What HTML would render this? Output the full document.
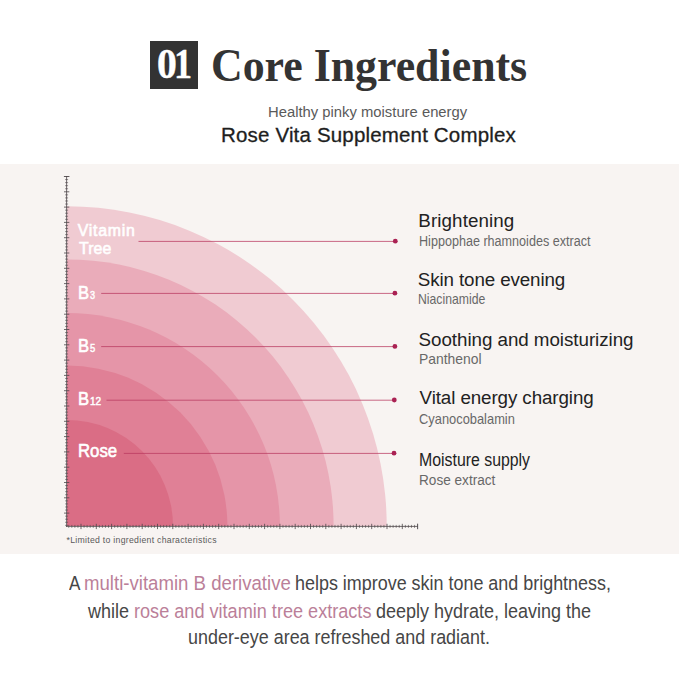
<!DOCTYPE html>
<html><head><meta charset="utf-8"><title>Core Ingredients</title>
<style>
html,body{margin:0;padding:0;background:#fff;}
body{width:679px;height:679px;position:relative;overflow:hidden;font-family:"Liberation Sans",sans-serif;}
.t{position:absolute;white-space:pre;line-height:1;margin:0;padding:0;transform-origin:0 0;}
.panel{position:absolute;left:0;top:164px;width:679px;height:390px;background:#f8f4f2;}
.box{position:absolute;left:150px;top:41px;width:48px;height:48px;background:#333;}
svg{position:absolute;left:0;top:0;}
</style></head><body>
<div class="panel"></div>
<div class="box"></div>
<svg width="679" height="679" viewBox="0 0 679 679">
<defs><clipPath id="q"><rect x="67.0" y="150" width="400" height="376.0"/></clipPath></defs>
<g clip-path="url(#q)">
<circle cx="67.0" cy="526.0" r="319.7" fill="#f0cbd2"/>
<circle cx="67.0" cy="526.0" r="266.6" fill="#eaacba"/>
<circle cx="67.0" cy="526.0" r="212.9" fill="#e595a8"/>
<circle cx="67.0" cy="526.0" r="160.4" fill="#e08096"/>
<circle cx="67.0" cy="526.0" r="106.0" fill="#da6d85"/>
</g>
<path d="M66.6 176V526.9" stroke="#4c4548" stroke-width="1" fill="none" opacity="0.8"/>
<path d="M66.1 526.4H417.7" stroke="#4c4548" stroke-width="1" fill="none" opacity="0.8"/>
<path d="M65.1 179.56h3M65.1 182.62h3M65.1 185.68h3M65.1 188.74h3M65.1 194.86h3M65.1 197.92h3M65.1 200.98h3M65.1 204.04h3M65.1 210.16h3M65.1 213.22h3M65.1 216.28h3M65.1 219.34h3M65.1 225.46h3M65.1 228.52h3M65.1 231.58h3M65.1 234.64h3M65.1 240.76h3M65.1 243.82h3M65.1 246.88h3M65.1 249.94h3M65.1 256.06h3M65.1 259.12h3M65.1 262.18h3M65.1 265.24h3M65.1 271.36h3M65.1 274.42h3M65.1 277.48h3M65.1 280.54h3M65.1 286.66h3M65.1 289.72h3M65.1 292.78h3M65.1 295.84h3M65.1 301.96h3M65.1 305.02h3M65.1 308.08h3M65.1 311.14h3M65.1 317.26h3M65.1 320.32h3M65.1 323.38h3M65.1 326.44h3M65.1 332.56h3M65.1 335.62h3M65.1 338.68h3M65.1 341.74h3M65.1 347.86h3M65.1 350.92h3M65.1 353.98h3M65.1 357.04h3M65.1 363.16h3M65.1 366.22h3M65.1 369.28h3M65.1 372.34h3M65.1 378.46h3M65.1 381.52h3M65.1 384.58h3M65.1 387.64h3M65.1 393.76h3M65.1 396.82h3M65.1 399.88h3M65.1 402.94h3M65.1 409.06h3M65.1 412.12h3M65.1 415.18h3M65.1 418.24h3M65.1 424.36h3M65.1 427.42h3M65.1 430.48h3M65.1 433.54h3M65.1 439.66h3M65.1 442.72h3M65.1 445.78h3M65.1 448.84h3M65.1 454.96h3M65.1 458.02h3M65.1 461.08h3M65.1 464.14h3M65.1 470.26h3M65.1 473.32h3M65.1 476.38h3M65.1 479.44h3M65.1 485.56h3M65.1 488.62h3M65.1 491.68h3M65.1 494.74h3M65.1 500.86h3M65.1 503.92h3M65.1 506.98h3M65.1 510.04h3M65.1 516.16h3M65.1 519.22h3M65.1 522.28h3M65.1 525.34h3M414.54 524.9v3M411.48 524.9v3M408.42 524.9v3M405.36 524.9v3M399.24 524.9v3M396.18 524.9v3M393.12 524.9v3M390.06 524.9v3M383.94 524.9v3M380.88 524.9v3M377.82 524.9v3M374.76 524.9v3M368.64 524.9v3M365.58 524.9v3M362.52 524.9v3M359.46 524.9v3M353.34 524.9v3M350.28 524.9v3M347.22 524.9v3M344.16 524.9v3M338.04 524.9v3M334.98 524.9v3M331.92 524.9v3M328.86 524.9v3M322.74 524.9v3M319.68 524.9v3M316.62 524.9v3M313.56 524.9v3M307.44 524.9v3M304.38 524.9v3M301.32 524.9v3M298.26 524.9v3M292.14 524.9v3M289.08 524.9v3M286.02 524.9v3M282.96 524.9v3M276.84 524.9v3M273.78 524.9v3M270.72 524.9v3M267.66 524.9v3M261.54 524.9v3M258.48 524.9v3M255.42 524.9v3M252.36 524.9v3M246.24 524.9v3M243.18 524.9v3M240.12 524.9v3M237.06 524.9v3M230.94 524.9v3M227.88 524.9v3M224.82 524.9v3M221.76 524.9v3M215.64 524.9v3M212.58 524.9v3M209.52 524.9v3M206.46 524.9v3M200.34 524.9v3M197.28 524.9v3M194.22 524.9v3M191.16 524.9v3M185.04 524.9v3M181.98 524.9v3M178.92 524.9v3M175.86 524.9v3M169.74 524.9v3M166.68 524.9v3M163.62 524.9v3M160.56 524.9v3M154.44 524.9v3M151.38 524.9v3M148.32 524.9v3M145.26 524.9v3M139.14 524.9v3M136.08 524.9v3M133.02 524.9v3M129.96 524.9v3M123.84 524.9v3M120.78 524.9v3M117.72 524.9v3M114.66 524.9v3M108.54 524.9v3M105.48 524.9v3M102.42 524.9v3M99.36 524.9v3M93.24 524.9v3M90.18 524.9v3M87.12 524.9v3M84.06 524.9v3M77.94 524.9v3M74.88 524.9v3M71.82 524.9v3M68.76 524.9v3" stroke="#4c4548" stroke-width="1" fill="none" opacity="0.6"/>
<path d="M64 176.50h5.3M64 191.80h5.3M64 207.10h5.3M64 222.40h5.3M64 237.70h5.3M64 253.00h5.3M64 268.30h5.3M64 283.60h5.3M64 298.90h5.3M64 314.20h5.3M64 329.50h5.3M64 344.80h5.3M64 360.10h5.3M64 375.40h5.3M64 390.70h5.3M64 406.00h5.3M64 421.30h5.3M64 436.60h5.3M64 451.90h5.3M64 467.20h5.3M64 482.50h5.3M64 497.80h5.3M64 513.10h5.3M417.60 523.8v5.3M402.30 523.8v5.3M387.00 523.8v5.3M371.70 523.8v5.3M356.40 523.8v5.3M341.10 523.8v5.3M325.80 523.8v5.3M310.50 523.8v5.3M295.20 523.8v5.3M279.90 523.8v5.3M264.60 523.8v5.3M249.30 523.8v5.3M234.00 523.8v5.3M218.70 523.8v5.3M203.40 523.8v5.3M188.10 523.8v5.3M172.80 523.8v5.3M157.50 523.8v5.3M142.20 523.8v5.3M126.90 523.8v5.3M111.60 523.8v5.3M96.30 523.8v5.3M81.00 523.8v5.3" stroke="#4c4548" stroke-width="1" fill="none" opacity="0.8"/>
<path d="M63.8 176.5h5.6M417.6 523.6v5.6" stroke="#4c4548" stroke-width="1" fill="none" opacity="0.45"/>
<path d="M138.5 241.4H395.3" stroke="#b8385f" stroke-width="1" fill="none" opacity="0.75"/>
<circle cx="395.3" cy="241.2" r="2.4" fill="#aa2153"/>
<path d="M101.2 293.4H394.9" stroke="#b8385f" stroke-width="1" fill="none" opacity="0.75"/>
<circle cx="394.9" cy="293.2" r="2.4" fill="#aa2153"/>
<path d="M101.2 346.6H394.9" stroke="#b8385f" stroke-width="1" fill="none" opacity="0.75"/>
<circle cx="394.9" cy="346.4" r="2.4" fill="#aa2153"/>
<path d="M106.5 400.2H394.3" stroke="#b8385f" stroke-width="1" fill="none" opacity="0.75"/>
<circle cx="394.3" cy="400.0" r="2.4" fill="#aa2153"/>
<path d="M123.8 453.4H394.0" stroke="#b8385f" stroke-width="1" fill="none" opacity="0.75"/>
<circle cx="394.0" cy="453.2" r="2.4" fill="#aa2153"/>
</svg>
<div class="t" style="left:156.87px;top:43.00px;font-size:42.5px;color:#ffffff;font-family:'Liberation Serif',serif;font-weight:700;transform:scaleX(0.9316);-webkit-text-stroke:0.5px #ffffff;">0</div>
<div class="t" style="left:174.04px;top:43.00px;font-size:42.5px;color:#ffffff;font-family:'Liberation Serif',serif;font-weight:700;transform:scaleX(0.8529);-webkit-text-stroke:0.3px #ffffff;">1</div>
<div class="t" style="left:210.51px;top:43.00px;font-size:46.3px;color:#333333;font-family:'Liberation Serif',serif;font-weight:700;transform:scaleX(0.9468);">Core Ingredients</div>
<div class="t" style="left:268.44px;top:104.00px;font-size:15.4px;color:#5a5a5a;transform:scaleX(0.9621);">Healthy pinky moisture energy</div>
<div class="t" style="left:221.00px;top:125.00px;font-size:20.5px;color:#1e1e1e;letter-spacing:0.170px;-webkit-text-stroke:0.3px #1e1e1e;">Rose Vita Supplement Complex</div>
<div class="t" style="left:77.70px;top:223.00px;font-size:15.9px;color:#ffffff;letter-spacing:0.750px;-webkit-text-stroke:0.6px #ffffff;">Vitamin</div>
<div class="t" style="left:79.00px;top:241.00px;font-size:15.9px;color:#ffffff;letter-spacing:0.067px;-webkit-text-stroke:0.6px #ffffff;">Tree</div>
<div class="t" style="left:77.56px;top:285.00px;font-size:17.8px;color:#ffffff;transform:scaleX(0.9364);-webkit-text-stroke:0.6px #ffffff;">B</div>
<div class="t" style="left:89.60px;top:290.00px;font-size:11.8px;color:#ffffff;transform:scaleX(0.7714);-webkit-text-stroke:0.5px #ffffff;">3</div>
<div class="t" style="left:77.56px;top:338.00px;font-size:17.8px;color:#ffffff;transform:scaleX(0.9364);-webkit-text-stroke:0.6px #ffffff;">B</div>
<div class="t" style="left:89.60px;top:343.00px;font-size:11.8px;color:#ffffff;transform:scaleX(0.8000);-webkit-text-stroke:0.5px #ffffff;">5</div>
<div class="t" style="left:77.56px;top:391.00px;font-size:17.8px;color:#ffffff;transform:scaleX(0.9364);-webkit-text-stroke:0.6px #ffffff;">B</div>
<div class="t" style="left:89.80px;top:396.00px;font-size:11.8px;color:#ffffff;transform:scaleX(0.8538);-webkit-text-stroke:0.5px #ffffff;">12</div>
<div class="t" style="left:77.86px;top:443.00px;font-size:17.8px;color:#ffffff;transform:scaleX(0.9425);-webkit-text-stroke:0.6px #ffffff;">Rose</div>
<div class="t" style="left:418.30px;top:212.00px;font-size:18.8px;color:#222222;letter-spacing:0.100px;">Brightening</div>
<div class="t" style="left:418.50px;top:234.00px;font-size:14.0px;color:#686868;transform:scaleX(0.8995);">Hippophae rhamnoides extract</div>
<div class="t" style="left:417.80px;top:271.00px;font-size:18.8px;color:#222222;letter-spacing:-0.119px;">Skin tone evening</div>
<div class="t" style="left:418.45px;top:292.00px;font-size:14.4px;color:#686868;transform:scaleX(0.8500);">Niacinamide</div>
<div class="t" style="left:418.60px;top:331.00px;font-size:18.8px;color:#222222;letter-spacing:-0.050px;">Soothing and moisturizing</div>
<div class="t" style="left:419.03px;top:352.00px;font-size:14.4px;color:#686868;transform:scaleX(0.9651);">Panthenol</div>
<div class="t" style="left:419.60px;top:389.00px;font-size:18.8px;color:#222222;letter-spacing:-0.100px;">Vital energy charging</div>
<div class="t" style="left:419.20px;top:412.00px;font-size:14.4px;color:#686868;transform:scaleX(0.8944);">Cyanocobalamin</div>
<div class="t" style="left:419.16px;top:451.00px;font-size:18.8px;color:#222222;transform:scaleX(0.8443);">Moisture supply</div>
<div class="t" style="left:419.11px;top:472.00px;font-size:15.3px;color:#686868;transform:scaleX(0.8894);">Rose extract</div>
<div class="t" style="left:66.50px;top:536.00px;font-size:8.7px;color:#5a5a5a;letter-spacing:0.284px;">*Limited to ingredient characteristics</div>
<div class="t" style="left:68.50px;top:574.00px;font-size:19.7px;color:#464646;transform:scaleX(0.8692);">A</div>
<div class="t" style="left:84.25px;top:574.00px;font-size:19.7px;color:#bb7f99;transform:scaleX(0.9452);">multi-vitamin B derivative</div>
<div class="t" style="left:295.09px;top:574.00px;font-size:19.7px;color:#464646;transform:scaleX(0.9107);">helps improve skin tone and brightness,</div>
<div class="t" style="left:88.30px;top:602.00px;font-size:19.7px;color:#464646;transform:scaleX(0.9136);">while</div>
<div class="t" style="left:134.48px;top:602.00px;font-size:19.7px;color:#bb7f99;transform:scaleX(0.9195);">rose and vitamin tree extracts</div>
<div class="t" style="left:376.09px;top:602.00px;font-size:19.7px;color:#464646;transform:scaleX(0.9141);">deeply hydrate, leaving the</div>
<div class="t" style="left:188.09px;top:628.00px;font-size:19.7px;color:#464646;transform:scaleX(0.9106);">under-eye area refreshed and radiant.</div>
</body></html>
